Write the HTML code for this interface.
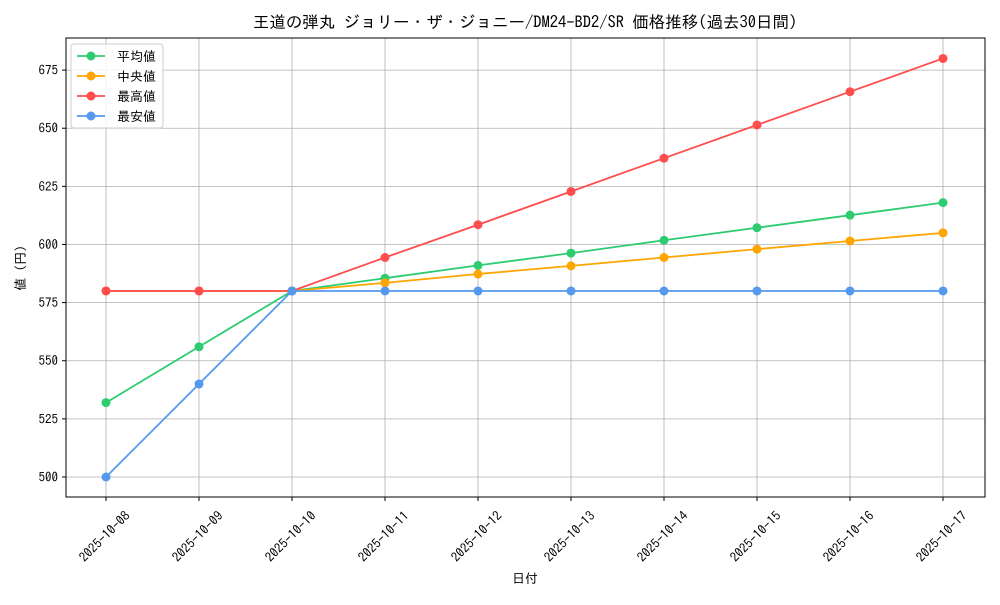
<!DOCTYPE html>
<html><head><meta charset="utf-8">
<style>
body{margin:0;background:#fff;}
svg text{font-family:"IPAGothic","Noto Sans CJK JP",monospace;fill:#000;}
</style></head>
<body>
<svg id="chart" width="1000" height="600" xmlns="http://www.w3.org/2000/svg">
<rect width="1000" height="600" fill="#fff"/>
<text x="525" y="28" font-size="16.5" text-anchor="middle">王道の弾丸 ジョリー・ザ・ジョニー/DM24-BD2/SR 価格推移(過去30日間)</text>
<g id="grid"></g>
<g id="axes"></g>
<g id="series"></g>
<text x="525" y="583" font-size="13" text-anchor="middle">日付</text>
<text transform="translate(25,268) rotate(-90)" font-size="13" text-anchor="middle">値 (円)</text>
<g id="legend"></g>
</svg>
<script>
const categories=["2025-10-08","2025-10-09","2025-10-10","2025-10-11","2025-10-12","2025-10-13","2025-10-14","2025-10-15","2025-10-16","2025-10-17"];
const avgValues=[532,556,580,585.5,591,596.3,601.8,607.2,612.6,618];
const medianValues=[580,580,580,583.5,587.3,590.8,594.4,598,601.5,605];
const maxValues=[580,580,580,594.4,608.5,622.8,637.1,651.4,665.7,680];
const minValues=[500,540,580,580,580,580,580,580,580,580];
const yTicks=[500,525,550,575,600,625,650,675];
const seriesNames=["平均値","中央値","最高値","最安値"];
const colors=["#2ecc71","#ffa500","#ff4d4d","#5599ee"];
const L=66,R=985,T=38,B=497,yMin=491.4,yMax=688.8;
const xs=i=>106+i*(943-106)/(categories.length-1);
const ys=v=>B-(v-yMin)/(yMax-yMin)*(B-T);
const NS="http://www.w3.org/2000/svg";
function mk(p,t,a){const e=document.createElementNS(NS,t);for(const k in a)e.setAttribute(k,a[k]);p.appendChild(e);return e;}
const grid=document.getElementById('grid'),axes=document.getElementById('axes'),ser=document.getElementById('series'),leg=document.getElementById('legend');
categories.forEach((c,i)=>{
 const g=mk(grid,'line',{x1:xs(i),x2:xs(i),y1:T,y2:B,stroke:'#b0b0b0','stroke-width':0.8});
 
 
 mk(axes,'line',{x1:xs(i),x2:xs(i),y1:B,y2:B+4,stroke:'#000'});
 const cx=xs(i)-1.5,cy=536.5;
 const t=mk(axes,'text',{x:cx,y:cy,'font-size':13,'text-anchor':'middle','dominant-baseline':'central',transform:`rotate(-45 ${cx} ${cy})`});
 t.textContent=c;
 
 
});
yTicks.forEach(v=>{
 const g=mk(grid,'line',{x1:L,x2:R,y1:ys(v),y2:ys(v),stroke:'#b0b0b0','stroke-width':0.8});
 
 
 mk(axes,'line',{x1:L-4,x2:L,y1:ys(v),y2:ys(v),stroke:'#000'});
 const t=mk(axes,'text',{x:L-8,y:ys(v)+4.5,'font-size':13,'text-anchor':'end'});
 t.textContent=v;
 
 
});
const frame=mk(axes,'rect',{x:L,y:T,width:R-L,height:B-T,fill:'none',stroke:'#000','stroke-width':1});


const data=[avgValues,medianValues,maxValues,minValues];
const sNames=["series-average","series-median","series-max","series-min"];
data.forEach((d,s)=>{
 const g=mk(ser,'g',{});
 
 
 mk(g,'polyline',{points:d.map((v,i)=>xs(i)+','+ys(v)).join(' '),fill:'none',stroke:colors[s],'stroke-width':1.8});
 d.forEach((v,i)=>{
  const c=mk(g,'circle',{cx:xs(i),cy:ys(v),r:4.5,fill:colors[s]});
  
  
 });
});
mk(leg,'rect',{x:71,y:44,width:92,height:84,fill:'#fff','fill-opacity':0.85,stroke:'#ccc',rx:3});
seriesNames.forEach((n,s)=>{
 const y=56+s*20;
 const e=mk(leg,'g',{});
 
 
 mk(e,'line',{x1:77,x2:105,y1:y,y2:y,stroke:colors[s],'stroke-width':1.8});
 mk(e,'circle',{cx:91,cy:y,r:4.5,fill:colors[s]});
 const t=mk(e,'text',{x:117,y:y+5,'font-size':13});
 t.textContent=n;
});
</script>
</body></html>
